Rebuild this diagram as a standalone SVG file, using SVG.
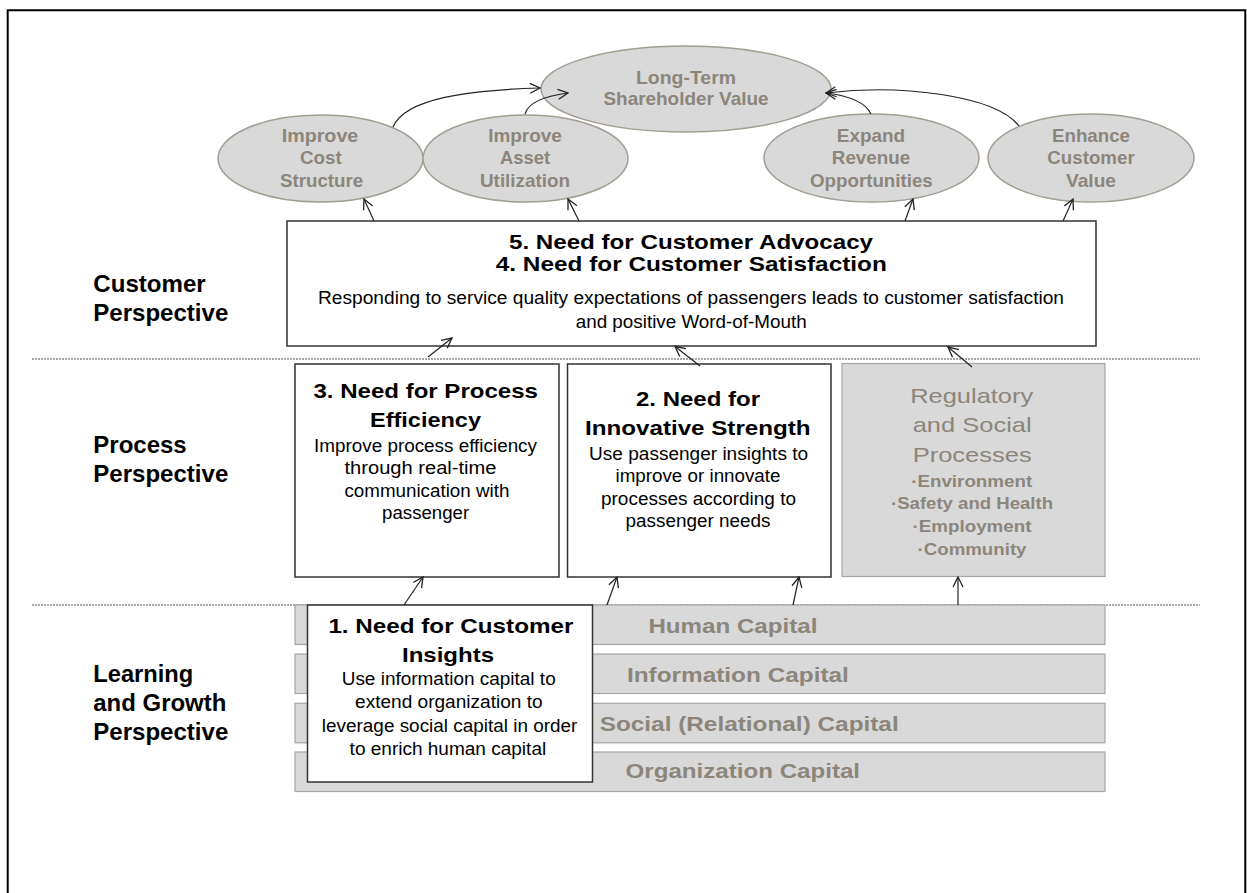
<svg xmlns="http://www.w3.org/2000/svg" width="1247" height="893" viewBox="0 0 1247 893">
  <style>
    text { font-family: "Liberation Sans", Arial, sans-serif; text-anchor: middle; }
    .lbl { text-anchor: start; font-weight: bold; font-size: 24px; fill: #000; }
    .oval { fill: #d9d9d9; stroke: #a39d92; stroke-width: 1.5; }
    .otxt { font-weight: bold; font-size: 18.5px; fill: #8c857b; }
    .box { fill: #fff; stroke: #333; stroke-width: 1.5; }
    .gbox { fill: #d9d9d9; stroke: #a6a6a6; stroke-width: 1.2; }
    .ttl { font-weight: bold; font-size: 21px; fill: #000; }
    .body { font-size: 17.5px; fill: #000; }
    .gttl { font-size: 21px; fill: #8c857b; }
    .gitem { font-weight: bold; font-size: 16px; fill: #8c857b; }
    .cap { font-weight: bold; font-size: 21px; fill: #8c857b; }
    .sep { stroke: #8a8a8a; stroke-width: 1.5; stroke-dasharray: 2 1; fill: none; }
    .con { fill: none; stroke: #222; stroke-width: 1.2; marker-end: url(#arr); }
  </style>
  <defs>
    <marker id="arr" viewBox="0 0 12 12" refX="11" refY="6" markerWidth="12" markerHeight="12" markerUnits="userSpaceOnUse" orient="auto">
      <path d="M1,1 L11,6 L1,11" fill="none" stroke="#222" stroke-width="1.3"/>
    </marker>
  </defs>

  <rect width="1247" height="893" fill="#fff"/>
  <!-- frame, open at the bottom -->
  <path d="M7.7,900 V10.3 H1245.3 V900" fill="none" stroke="#000" stroke-width="2"/>

  <!-- perspective separators -->
  <g id="separators">
    <line class="sep" x1="32" y1="359" x2="1200" y2="359"/>
    <line class="sep" x1="32" y1="605" x2="1200" y2="605"/>
  </g>

  <!-- perspective labels -->
  <g id="labels">
    <text class="lbl" x="93.3" y="292" textLength="112.4" lengthAdjust="spacingAndGlyphs">Customer</text>
    <text class="lbl" x="93.3" y="321" textLength="135" lengthAdjust="spacingAndGlyphs">Perspective</text>
    <text class="lbl" x="93.3" y="452.7" textLength="93.4" lengthAdjust="spacingAndGlyphs">Process</text>
    <text class="lbl" x="93.3" y="481.7" textLength="135" lengthAdjust="spacingAndGlyphs">Perspective</text>
    <text class="lbl" x="93.3" y="681.7" textLength="100" lengthAdjust="spacingAndGlyphs">Learning</text>
    <text class="lbl" x="93.3" y="710.7" textLength="133" lengthAdjust="spacingAndGlyphs">and Growth</text>
    <text class="lbl" x="93.3" y="739.7" textLength="135" lengthAdjust="spacingAndGlyphs">Perspective</text>
  </g>

  <!-- financial goals -->
  <g id="long-term-value">
    <ellipse class="oval" cx="686" cy="89" rx="145" ry="43"/>
    <text class="otxt" x="686" y="84" textLength="100" lengthAdjust="spacingAndGlyphs">Long-Term</text>
    <text class="otxt" x="686" y="105" textLength="165" lengthAdjust="spacingAndGlyphs">Shareholder Value</text>
  </g>
  <g id="cost-structure">
    <ellipse class="oval" cx="320.5" cy="158.5" rx="102.5" ry="43.5"/>
    <text class="otxt" x="320" y="141.7" textLength="76.6" lengthAdjust="spacingAndGlyphs">Improve</text>
    <text class="otxt" x="320.8" y="164" textLength="41.7" lengthAdjust="spacingAndGlyphs">Cost</text>
    <text class="otxt" x="321.6" y="186.7" textLength="83.3" lengthAdjust="spacingAndGlyphs">Structure</text>
  </g>
  <g id="asset-utilization">
    <ellipse class="oval" cx="525.5" cy="158.5" rx="102.5" ry="43.5"/>
    <text class="otxt" x="525" y="141.7" textLength="73.7" lengthAdjust="spacingAndGlyphs">Improve</text>
    <text class="otxt" x="525" y="164" textLength="50" lengthAdjust="spacingAndGlyphs">Asset</text>
    <text class="otxt" x="525" y="186.7" textLength="90" lengthAdjust="spacingAndGlyphs">Utilization</text>
  </g>
  <g id="revenue-opportunities">
    <ellipse class="oval" cx="871.5" cy="158" rx="107.5" ry="44"/>
    <text class="otxt" x="871" y="141.7" textLength="68.3" lengthAdjust="spacingAndGlyphs">Expand</text>
    <text class="otxt" x="871" y="164" textLength="78.3" lengthAdjust="spacingAndGlyphs">Revenue</text>
    <text class="otxt" x="871.4" y="186.7" textLength="122.7" lengthAdjust="spacingAndGlyphs">Opportunities</text>
  </g>
  <g id="customer-value">
    <ellipse class="oval" cx="1091" cy="158" rx="103" ry="44"/>
    <text class="otxt" x="1091" y="141.7" textLength="78" lengthAdjust="spacingAndGlyphs">Enhance</text>
    <text class="otxt" x="1091" y="164" textLength="87.4" lengthAdjust="spacingAndGlyphs">Customer</text>
    <text class="otxt" x="1091" y="186.7" textLength="50" lengthAdjust="spacingAndGlyphs">Value</text>
  </g>

  <!-- customer perspective -->
  <g id="customer-advocacy">
    <rect class="box" x="287" y="221" width="809" height="125"/>
    <text class="ttl" x="691" y="249" textLength="364" lengthAdjust="spacingAndGlyphs">5. Need for Customer Advocacy</text>
    <text class="ttl" x="691.3" y="271" textLength="391" lengthAdjust="spacingAndGlyphs">4. Need for Customer Satisfaction</text>
    <text class="body" x="691" y="304" textLength="746" lengthAdjust="spacingAndGlyphs">Responding to service quality expectations of passengers leads to customer satisfaction</text>
    <text class="body" x="691.2" y="328" textLength="231" lengthAdjust="spacingAndGlyphs">and positive Word-of-Mouth</text>
  </g>

  <!-- process perspective -->
  <g id="process-efficiency">
    <rect class="box" x="295" y="364" width="264" height="213"/>
    <text class="ttl" x="425.7" y="397.7" textLength="224.5" lengthAdjust="spacingAndGlyphs">3. Need for Process</text>
    <text class="ttl" x="425.5" y="426.7" textLength="111" lengthAdjust="spacingAndGlyphs">Efficiency</text>
    <text class="body" x="425.5" y="451.7" textLength="223" lengthAdjust="spacingAndGlyphs">Improve process efficiency</text>
    <text class="body" x="420.5" y="474" textLength="152" lengthAdjust="spacingAndGlyphs">through real-time</text>
    <text class="body" x="426.9" y="497.3" textLength="165" lengthAdjust="spacingAndGlyphs">communication with</text>
    <text class="body" x="425.6" y="519.3" textLength="87" lengthAdjust="spacingAndGlyphs">passenger</text>
  </g>
  <g id="innovative-strength">
    <rect class="box" x="567.5" y="364" width="263.5" height="213"/>
    <text class="ttl" x="698" y="406" textLength="124" lengthAdjust="spacingAndGlyphs">2. Need for</text>
    <text class="ttl" x="697.8" y="435" textLength="225.6" lengthAdjust="spacingAndGlyphs">Innovative Strength</text>
    <text class="body" x="698.6" y="460" textLength="219" lengthAdjust="spacingAndGlyphs">Use passenger insights to</text>
    <text class="body" x="698" y="481.7" textLength="165" lengthAdjust="spacingAndGlyphs">improve or innovate</text>
    <text class="body" x="698.5" y="505" textLength="195" lengthAdjust="spacingAndGlyphs">processes according to</text>
    <text class="body" x="698" y="526.7" textLength="145" lengthAdjust="spacingAndGlyphs">passenger needs</text>
  </g>
  <g id="regulatory-social">
    <rect class="gbox" x="842" y="363.5" width="263" height="213"/>
    <text class="gttl" x="971.7" y="403.3" textLength="123" lengthAdjust="spacingAndGlyphs">Regulatory</text>
    <text class="gttl" x="972.2" y="431.7" textLength="119" lengthAdjust="spacingAndGlyphs">and Social</text>
    <text class="gttl" x="972.2" y="461.7" textLength="119" lengthAdjust="spacingAndGlyphs">Processes</text>
    <text class="gitem" x="971.7" y="486.7" textLength="121" lengthAdjust="spacingAndGlyphs">·Environment</text>
    <text class="gitem" x="972" y="509.3" textLength="162" lengthAdjust="spacingAndGlyphs">·Safety and Health</text>
    <text class="gitem" x="972" y="532.3" textLength="119" lengthAdjust="spacingAndGlyphs">·Employment</text>
    <text class="gitem" x="972" y="555" textLength="109" lengthAdjust="spacingAndGlyphs">·Community</text>
  </g>

  <!-- learning and growth: capital bars -->
  <g id="human-capital">
    <rect class="gbox" x="295" y="605" width="810" height="39.5"/>
    <text class="cap" x="732.9" y="633.3" textLength="169" lengthAdjust="spacingAndGlyphs">Human Capital</text>
  </g>
  <g id="information-capital">
    <rect class="gbox" x="295" y="654" width="810" height="39.5"/>
    <text class="cap" x="737.9" y="681.7" textLength="222" lengthAdjust="spacingAndGlyphs">Information Capital</text>
  </g>
  <g id="social-capital">
    <rect class="gbox" x="295" y="703.3" width="810" height="39.5"/>
    <text class="cap" x="749.2" y="730.7" textLength="299" lengthAdjust="spacingAndGlyphs">Social (Relational) Capital</text>
  </g>
  <g id="organization-capital">
    <rect class="gbox" x="295" y="752" width="810" height="39.5"/>
    <text class="cap" x="742.8" y="778.3" textLength="234.5" lengthAdjust="spacingAndGlyphs">Organization Capital</text>
  </g>
  <g id="customer-insights">
    <rect class="box" x="307.5" y="605" width="285" height="177"/>
    <text class="ttl" x="450.9" y="633.3" textLength="245" lengthAdjust="spacingAndGlyphs">1. Need for Customer</text>
    <text class="ttl" x="448" y="661.7" textLength="92" lengthAdjust="spacingAndGlyphs">Insights</text>
    <text class="body" x="448.7" y="685" textLength="214" lengthAdjust="spacingAndGlyphs">Use information capital to</text>
    <text class="body" x="448.8" y="708.3" textLength="187.5" lengthAdjust="spacingAndGlyphs">extend organization to</text>
    <text class="body" x="449.6" y="731.7" textLength="255.5" lengthAdjust="spacingAndGlyphs">leverage social capital in order</text>
    <text class="body" x="447.9" y="755" textLength="196.6" lengthAdjust="spacingAndGlyphs">to enrich human capital</text>
  </g>

  <!-- cause-and-effect links -->
  <g id="connectors">
    <path class="con" d="M393,127 C405,98 470,90 540,88"/>
    <path class="con" d="M525,114 C528,103 545,96 568,93"/>
    <path class="con" d="M871,114 C866,103 850,96 826,93"/>
    <path class="con" d="M1019,126 C995,95 900,84 826,93"/>
    <path class="con" d="M374,221 L364,199"/>
    <path class="con" d="M579,221 L568,199"/>
    <path class="con" d="M905,221 L913,199"/>
    <path class="con" d="M1063,221 L1073,199"/>
    <path class="con" d="M428,357 L452,338"/>
    <path class="con" d="M700,366 L675,346.5"/>
    <path class="con" d="M972,367 L948,347"/>
    <path class="con" d="M404,605 L423,577"/>
    <path class="con" d="M607,605 L617,577"/>
    <path class="con" d="M793,605 L799,577"/>
    <path class="con" d="M958,605 L958,577"/>
  </g>
</svg>
